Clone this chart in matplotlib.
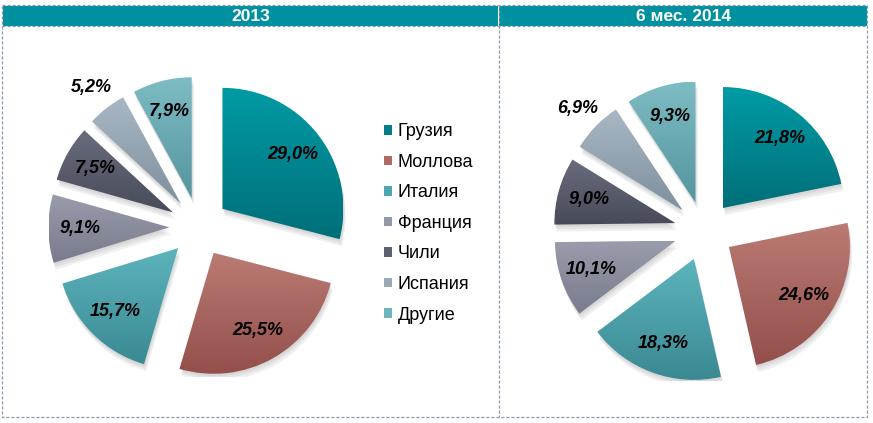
import numpy as np
import matplotlib
matplotlib.use('Agg')
import matplotlib.pyplot as plt
from matplotlib.patches import Rectangle, Wedge, Patch
from matplotlib.colors import to_rgb

plt.rcParams['font.family'] = ['Liberation Sans', 'DejaVu Sans']

countries = ['Грузия', 'Моллова', 'Италия', 'Франция', 'Чили', 'Испания', 'Другие']
share_2013 = [29.0, 25.5, 15.7, 9.1, 7.5, 5.2, 7.9]
share_2014 = [21.8, 24.6, 18.3, 10.1, 9.0, 6.9, 9.3]
titles = ['2013', '6 мес. 2014']

# top / bottom gradient colours per slice, plus legend swatch colour
top_cols = ['#009BA5', '#BA7B73', '#5DB4BC', '#989CAB', '#686C7C', '#A9B8C4', '#7DBCC3']
bot_cols = ['#006F79', '#944F4B', '#3A8993', '#777B8B', '#474B59', '#7E8F9D', '#55959E']
leg_cols = ['#007F8A', '#B06A64', '#4EA6AF', '#9497A6', '#5C6070', '#99A9B6', '#6FB4BC']

W, H = 873, 423
fig = plt.figure(figsize=(W / 100, H / 100), dpi=100)

# frame / header layer in pixel coordinates
bg = fig.add_axes([0, 0, 1, 1])
bg.set_xlim(0, W)
bg.set_ylim(H, 0)
bg.axis('off')
header_col = '#0090A0'
border_col = '#8A9BAE'
panels = [(3, 498), (499, 867)]
for (x0, x1), t in zip(panels, titles):
    bg.add_patch(Rectangle((x0, 6), x1 - x0, 20, facecolor=header_col, edgecolor='none'))
    bg.text((x0 + x1) / 2, 16.5, t, color='white', fontsize=12.5, fontweight='bold',
            ha='center', va='center')
dash = dict(color=border_col, lw=0.9, ls=(0, (2.5, 1.5)))
bg.plot([2, 867, 867, 2, 2], [5, 5, 417, 417, 5], **dash)
bg.plot([498.5, 498.5], [5, 417], **dash)
bg.plot([2, 867], [26, 26], **dash)


def draw_pie(cx, cy, values):
    half = 150
    ax = fig.add_axes([(cx - half) / W, (H - cy - half) / H, 2 * half / W, 2 * half / H])
    r_px = 121
    lim = half / r_px
    wedges, _ = ax.pie(values, startangle=90, counterclock=False, radius=1,
                       explode=[0.245] * len(values),
                       wedgeprops=dict(linewidth=0, edgecolor='none'))
    for i, w in enumerate(wedges):
        w.set_facecolor('none')
        # soft shadow
        for k, a in enumerate([0.05, 0.05, 0.06]):
            off = 0.012 * (k + 1)
            sh = Wedge((w.center[0] + off * 0.5, w.center[1] - off * 1.6), w.r,
                       w.theta1, w.theta2, facecolor='black', alpha=a, lw=0, zorder=0)
            ax.add_patch(sh)
        grad = np.linspace(0, 1, 128)[:, None, None]
        c_top = np.array(to_rgb(top_cols[i]))
        c_bot = np.array(to_rgb(bot_cols[i]))
        img = c_bot * (1 - grad) + c_top * grad
        img = np.repeat(img, 2, axis=1)
        bb = w.get_path().get_extents()
        im = ax.imshow(img, extent=[bb.x0, bb.x1, bb.y0, bb.y1], origin='lower',
                       aspect='auto', zorder=2, interpolation='bilinear')
        im.set_clip_path(w)
        # percentage label
        th = np.deg2rad((w.theta1 + w.theta2) / 2)
        d = 1.21 if values[i] < 7 else 0.74
        tx = w.center[0] + d * w.r * np.cos(th)
        ty = w.center[1] + d * w.r * np.sin(th)
        ax.text(tx, ty, f'{values[i]:.1f}%'.replace('.', ','), ha='center', va='center',
                fontsize=13, fontweight='bold', fontstyle='italic', color='black', zorder=5)
    ax.set_xlim(-lim, lim)
    ax.set_ylim(-lim, lim)
    ax.set_aspect('equal')
    ax.axis('off')


draw_pie(199, 227, share_2013)
draw_pie(704, 231, share_2014)

handles = [Patch(facecolor=c, edgecolor='none') for c in leg_cols]
fig.legend(handles, countries, loc='upper left', bbox_to_anchor=(368 / W, 1 - 107 / H),
           frameon=False, fontsize=13, handlelength=0.45, handleheight=0.45,
           handletextpad=0.3, labelspacing=0.75)

fig.savefig('out.png', dpi=100)
